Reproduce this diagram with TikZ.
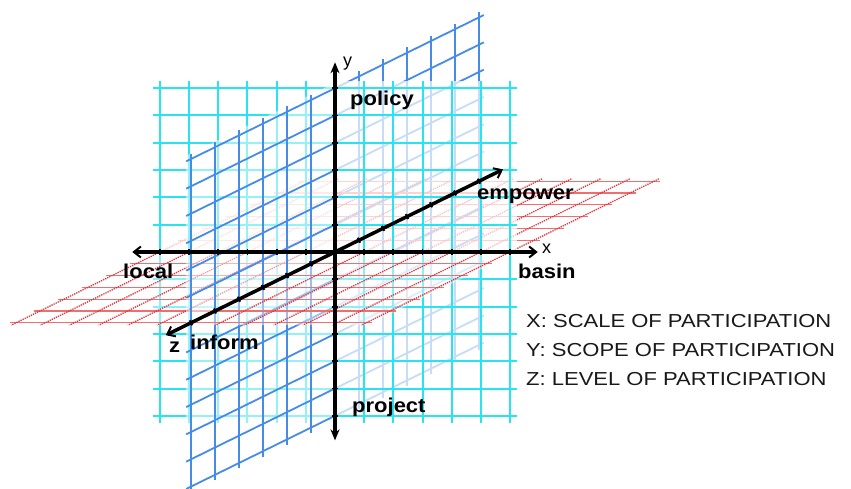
\documentclass[tikz,border=0pt]{standalone}
\usepackage{fontspec}
\setmainfont{Liberation Sans}
\newfontfamily\lblfont[FakeStretch=1.1]{Liberation Sans}
\newfontfamily\legfont[FakeStretch=1.17]{Liberation Sans}
\usetikzlibrary{arrows.meta}
\definecolor{gcyan}{RGB}{40,228,240}
\definecolor{gblue}{RGB}{70,140,230}
\definecolor{gred}{RGB}{240,110,110}
\definecolor{gdot}{RGB}{225,50,60}
\begin{document}
\begin{tikzpicture}[x=1pt,y=-1pt,
  cyanline/.style={gcyan,line width=2pt},
  blueline/.style={gblue,line width=1.8pt},
  redline/.style={gred,line width=1.3pt},
  reddot/.style={gdot,line width=1.3pt,densely dotted},
  axisline/.style={black,line width=3.5pt},
  axtick/.style={black,line width=1.8pt},
  fade/.style={white,opacity=#1},
  lbl/.style={anchor=base west,inner sep=0pt,font=\lblfont\bfseries\fontsize{20}{24}\selectfont},
  axlbl/.style={anchor=base west,inner sep=0pt,font=\fontsize{18}{20}\selectfont},
  leg/.style={anchor=base west,inner sep=0pt,text=black!90,font=\legfont\fontsize{18.8}{22}\selectfont},
  arrowtip/.style={-{Straight Barb[length=7pt,width=11pt,line width=2pt]}}
]
\fill[white] (0,0) rectangle (851,489);
\useasboundingbox (0,0) rectangle (851,489);
\clip (0,0) rectangle (851,489);
\begin{scope}[shift={(335pt,-252pt)}, x={(29.17pt,0pt)}, y={(0pt,27.3pt)}, z={(-24pt,-11.8pt)}]
  % blue plane, back half
  \foreach \k in {-6,...,-1} \draw[blueline] (0,-6.2,\k) -- (0,6.2,\k);
  \foreach \m in {-6,...,6} \draw[blueline] (0,\m,-6.2) -- (0,\m,0);
  % red plane, back half
  \foreach \k in {-6,...,-1} \draw[redline] (-6.2,0,\k) -- (6.2,0,\k);
  \foreach \m in {-6,...,6} \draw[reddot] (\m,0,-6.2) -- (\m,0,0);
  % cyan plane
  \fill[fade=0.7] (-6.25,-6.25,0) -- (6.25,-6.25,0) -- (6.25,6.25,0) -- (-6.25,6.25,0) -- cycle;
  \foreach \m in {-6,...,6} {
    \draw[cyanline] (\m,-6.25,0) -- (\m,6.25,0);
    \draw[cyanline] (-6.25,\m,0) -- (6.25,\m,0);
  }
  % red plane, front left
  \fill[fade=0.45] (-6.2,0,0) -- (0,0,0) -- (0,0,6.2) -- (-6.2,0,6.2) -- cycle;
  \foreach \k in {1,...,6} \draw[redline] (-6.2,0,\k) -- (0,0,\k);
  \foreach \m in {-6,...,-1} \draw[reddot] (\m,0,0) -- (\m,0,6.2);
  % blue plane, front half
  \fill[fade=0.5] (0,-6.2,0) -- (0,6.2,0) -- (0,6.2,6.2) -- (0,-6.2,6.2) -- cycle;
  \foreach \k in {1,...,6} \draw[blueline] (0,-6.2,\k) -- (0,6.2,\k);
  \foreach \m in {-6,...,6} \draw[blueline] (0,\m,0) -- (0,\m,6.2);
  % red plane, front right
  \fill[fade=0.45] (0,0,0) -- (6.2,0,0) -- (6.2,0,6.2) -- (0,0,6.2) -- cycle;
  \foreach \k in {1,...,6} \draw[redline] (0,0,\k) -- (6.2,0,\k);
  \foreach \m in {0,...,6} \draw[reddot] (\m,0,0) -- (\m,0,6.2);
  % axes
  \coordinate (O) at (0,0,0);
  \coordinate (xl) at (-6.95,0,0);
  \coordinate (xr) at (6.95,0,0);
  \coordinate (yt) at (0,6.95,0);
  \coordinate (yb) at (0,-6.9,0);
  \coordinate (zf) at (0,0,7.05);
  \coordinate (zb) at (0,0,-7);
  \foreach \m in {-6,-5,-4,-3,-2,-1,1,2,3,4,5,6} {
    \draw[axtick] (\m,0,0) ++(0pt,2.8pt) -- ++(0pt,-5.6pt);
    \draw[axtick] (0,\m,0) ++(-2.8pt,0pt) -- ++(5.6pt,0pt);
    \draw[axtick] (0,0,\m) ++(-1.2pt,2.5pt) -- ++(2.4pt,-5pt);
  }
  \draw[axisline,arrowtip] (O) -- (xl);
  \draw[axisline,arrowtip] (O) -- (xr);
  \draw[axisline,-{Stealth[length=11pt,width=9pt]}] (O) -- (yt);
  \draw[axisline,-{Stealth[length=11pt,width=9pt]}] (O) -- (yb);
  \draw[axisline,arrowtip] (O) -- (zf);
  \draw[axisline,arrowtip] (O) -- (zb);
\end{scope}
% labels
\node[lbl] (policy) at (350,106) {policy};
\node[lbl] (empower) at (477,200) {empower};
\node[lbl] (basin) at (518,278) {basin};
\node[lbl] (local) at (123,278) {local};
\node[lbl] (inform) at (190,349) {inform};
\node[lbl] (project) at (352,412) {project};
\node[axlbl] (ylab) at (343,67) {y};
\node[axlbl] (xlab) at (542,253) {x};
\node[lbl] (zlab) at (169,352) {z};
% legend
\node[leg] (legx) at (526,327) {X: SCALE OF PARTICIPATION};
\node[leg] (legy) at (526,356) {Y: SCOPE OF PARTICIPATION};
\node[leg] (legz) at (526,385) {Z: LEVEL OF PARTICIPATION};
\end{tikzpicture}
\end{document}
